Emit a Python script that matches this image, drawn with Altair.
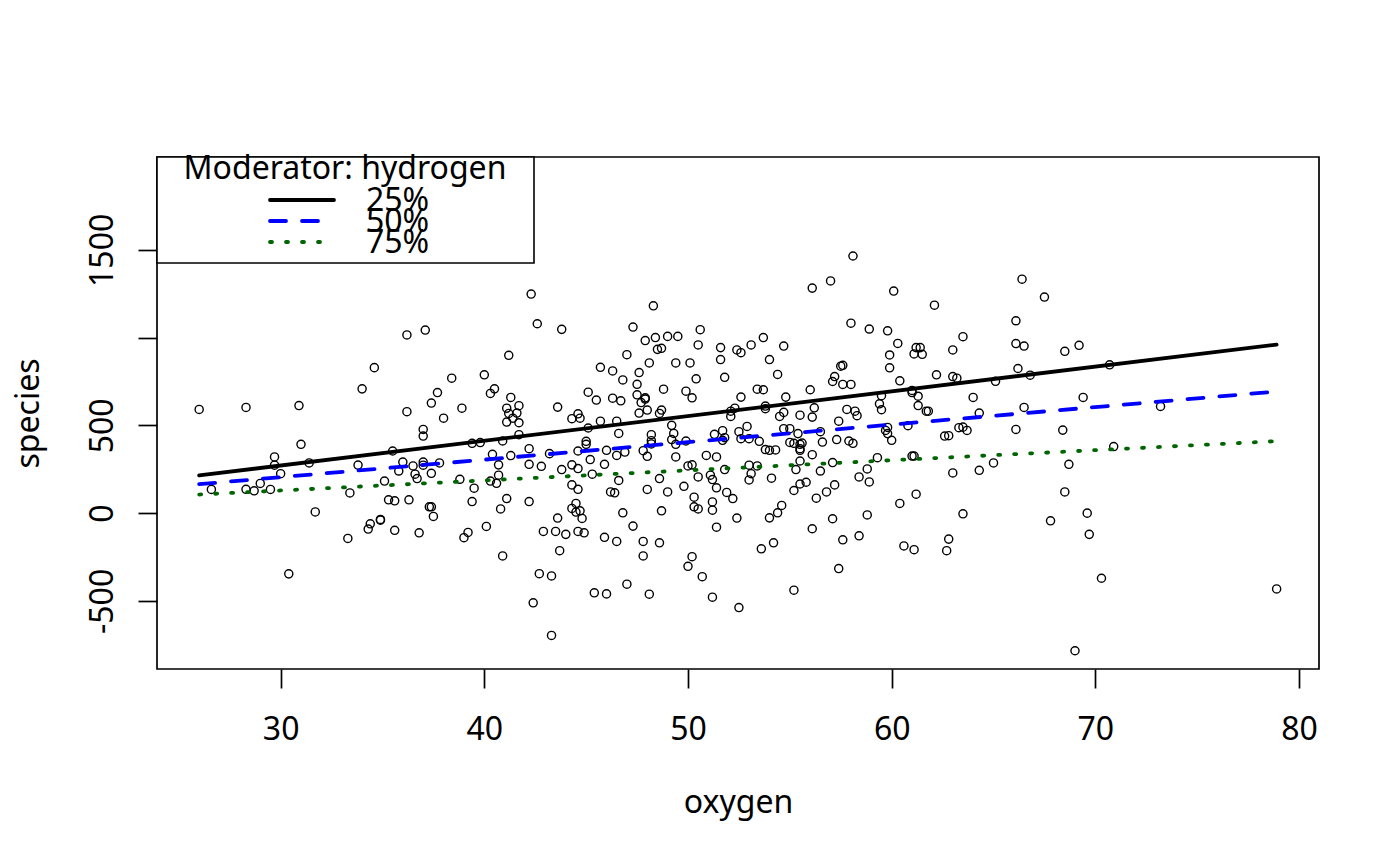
import altair as alt
import pandas as pd

# scatter: oxygen (x) vs species (y)
oxygen = [
 26.0, 28.3, 30.9, 34.0, 34.6, 36.2, 37.1, 38.4, 37.7, 37.4, 36.2, 38.0, 37.0, 37.0, 31.0, 35.5, 29.7,
 29.7, 31.4, 30.0, 26.6, 28.3, 28.7, 29.0, 29.5, 33.8, 33.4, 35.1, 36.0, 35.8, 36.5, 37.0, 37.0, 36.6,
 36.7, 37.4, 37.8, 35.3, 35.6, 36.3, 37.3, 37.4, 37.5, 31.7, 34.4, 34.3, 34.9, 34.9, 35.6, 36.8, 33.3, 30.4,
 42.3, 42.6, 43.8, 41.2, 40.0, 40.5, 40.3, 38.9, 41.3, 41.7, 41.1, 41.2, 41.6, 41.4, 41.1, 41.7, 43.6,
 41.7, 39.4, 39.8, 40.9, 40.4, 41.3, 42.2, 43.2, 44.3, 44.6, 44.7, 45.7, 45.1, 45.5, 45.7, 46.3, 46.8,
 46.3, 46.7, 45.1, 46.5, 46.6, 45.0, 45.0, 44.6, 46.0, 46.5, 46.9, 47.3, 48.3, 47.9, 48.4, 49.0, 49.5,
 48.5, 48.7, 47.0, 48.1, 49.4, 50.1, 50.5, 50.6, 47.6, 47.5, 47.5, 47.9, 47.9, 47.7, 48.8, 49.9, 50.2,
 50.4, 47.6, 48.0, 48.6, 48.7, 49.2, 49.3, 48.2, 48.2, 48.2, 49.2, 49.4, 49.9, 47.8, 48.0, 49.4,
 40.7, 42.2, 42.8, 43.8, 44.3, 44.6, 45.2, 45.9, 45.3, 46.6, 38.8, 40.3, 40.7, 40.6, 39.5, 39.4, 41.1,
 40.8, 42.2, 44.3, 44.6, 44.5, 44.3, 44.5, 44.7, 44.8, 43.6, 42.9, 43.5, 44.0, 44.6, 44.9, 40.1, 39.2,
 39.0, 40.9, 43.7, 42.7, 43.3, 42.4, 43.3, 46.2, 46.4, 46.8, 47.3, 45.9, 46.5, 47.8, 48.6, 47.8, 47.0,
 45.4, 46.0, 48.1, 48.0, 48.6, 49.0, 48.7, 50.0, 50.2, 49.8, 50.5, 50.3, 50.3, 50.5, 50.2, 50.0,
 51.6, 51.6, 52.4, 52.6, 53.1, 53.7, 54.7, 54.0, 51.8, 54.4, 53.4, 53.7, 52.6, 54.8, 52.3, 52.1, 52.1,
 53.8, 53.8, 54.7, 54.5, 55.5, 56.1, 56.2, 56.0, 57.1, 57.2, 57.6, 58.0, 57.5, 57.6, 56.1, 57.0, 58.1,
 60.1, 62.1, 58.0, 58.9, 59.8, 60.3, 59.9, 59.9, 61.2, 61.4, 61.1, 61.5, 60.4, 62.2, 57.8, 58.2, 58.3,
 57.4, 59.5, 59.4, 59.5, 61.0, 61.0, 61.3, 61.3, 61.7, 61.8, 60.8, 59.8, 59.7, 59.8, 60.0, 62.6, 51.3,
 51.7, 51.8, 51.7, 52.5, 52.9, 52.6, 53.0, 53.5, 53.8, 54.0, 54.3, 54.7, 55.0, 55.4, 55.0, 55.2, 55.5,
 55.6, 55.5, 55.5, 56.5, 56.6, 57.3, 57.9, 58.1, 56.1, 50.9, 51.4,
 59.3, 61.0, 61.1, 57.1, 51.1, 51.2, 51.8, 51.4, 51.9, 52.2, 51.2, 51.2, 51.4, 52.4, 53.0, 53.4, 53.1,
 53.0, 54.1, 55.3, 55.5, 55.2, 55.5, 55.8, 56.5, 56.3, 56.8, 57.2, 54.6, 54.4, 54.0, 57.1, 56.1, 57.6,
 58.4, 58.8, 58.4, 58.9, 58.8, 60.4, 61.2, 60.6, 61.1, 54.2, 53.6, 50.7, 51.2, 52.5, 55.2, 57.4,
 66.4, 67.5, 66.1, 63.5, 63.0, 66.1, 66.5, 68.5, 69.2, 70.7, 66.2, 66.8, 63.0, 63.2, 65.1, 64.0, 69.4,
 66.5, 73.2, 64.3, 63.3, 63.5, 63.7, 62.8, 66.1, 68.4, 70.9,
 65.0, 64.3, 63.0, 68.7, 68.5, 63.5, 67.8, 69.6, 69.7, 62.8, 62.7, 70.3, 78.9, 69.0,
]
species = [
 591, 602, 613, 708, 829, 1015, 1043, 769, 687, 627, 578, 541, 477, 439, 392, 354, 320,
 273, 286, 225, 135, 136, 127, 169, 135, 274, 115, 183, 291, 240, 269, 291, 273, 222,
 197, 227, 286, 76, 70, 76, 36, 36, -19, 7, -61, -91, -36, -40, -98, -112, -144, -346,
 1248, 1079, 1047, 899, 788, 708, 682, 598, 659, 612, 598, 568, 570, 541, 519, 515, 604,
 447, 398, 402, 411, 335, 328, 367, 339, 538, 566, 541, 524, 689, 644, 831, 810, 759,
 655, 640, 485, 524, 454, 409, 392, 354, 358, 329, 348, 1060, 1181, 983, 1000, 1007, 1007,
 933, 939, 903, 856, 856, 856, 958, 1045, 801, 734, 674, 657, 650, 630, 706, 695, 657,
 765, 570, 587, 568, 587, 500, 454, 447, 413, 394, 419, 392, 411, 356, 324, 320,
 275, 278, 267, 248, 275, 254, 305, 278, 222, 186, 193, 183, 216, 170, 142, 66, 83,
 24, 66, 161, 136, 55, 27, 6, 13, -30, -28, -104, -104, -121, -104, -112, -76, -110,
 -140, -244, -214, -345, -358, -511, -697, 121, 116, 2, -74, -138, -161, -161, -169, -244, -405,
 -454, -460, -462, 135, 197, 121, 13, 269, 275, 153, 206, 91, 36, 24, -248, -303,
 943, 875, 930, 914, 958, 1000, 952, 875, 774, 790, 706, 703, 661, 661, 598, 581, 551,
 595, 610, 574, 551, 558, 547, 600, 703, 750, 778, 733, 733, 837, 842, 1282, 1323, 1465,
 1265, 1185, 1082, 1049, 1039, 967, 901, 828, 943, 943, 907, 905, 754, 788, 591, 581, 555,
 524, 669, 623, 589, 699, 687, 666, 613, 581, 581, 498, 488, 471, 453, 415, 439, 449,
 470, 430, 415, 464, 494, 424, 424, 409, 362, 358, 360, 481, 481, 453, 403, 398, 392,
 399, 367, 358, 464, 405, 419, 411, 398, 333, 329, 320,
 316, 325, 325, 288, 216, 191, 248, 144, 118, 83, 64, 17, -80, -28, 273, 269, 225,
 189, 199, 248, 297, 129, 166, 176, 240, 85, 121, 161, 44, 2, -27, -32, -89, -152,
 -129, -10, 206, 178, 252, 55, 108, -187, -208, -169, -203, -362, -479, -538, -439, -316,
 1333, 1231, 1096, 1005, 930, 966, 952, 922, 956, 845, 824, 786, 778, 769, 751, 659, 659,
 602, 608, 570, 487, 490, 471, 441, 477, 473, 379,
 286, 244, 229, 278, 121, -4, -44, 0, -121, -148, -214, -371, -432, -784,
]

# conditional regression lines at hydrogen quartiles
line_x = [26.0, 78.9]
q25_y = [215, 960]
q50_y = [165, 693]
q75_y = [106, 410]

legend_title = "Moderator: hydrogen"
legend_labels = ["25%", "50%", "75%"]

x_ticks = [30, 40, 50, 60, 70, 80]
y_ticks = [-500, 0, 500, 1000, 1500]

FONT = "Noto Sans"
FS = 32

pts = pd.DataFrame({"oxygen": oxygen, "species": species})

xscale = alt.Scale(domain=[23.93, 80.98], nice=False, zero=False)
yscale = alt.Scale(domain=[-888, 2029], nice=False, zero=False)

xaxis = alt.Axis(values=x_ticks, title="oxygen", grid=False, domain=False,
                 tickSize=19, tickWidth=1.7, tickColor="black",
                 labelFontSize=FS, labelFont=FONT, labelColor="black",
                 labelBaseline="alphabetic", labelPadding=51, labelOverlap=False,
                 labelExpr="'' + datum.value",
                 titleFontSize=FS, titleFont=FONT, titleFontWeight="normal",
                 titleColor="black", titleBaseline="alphabetic", titleY=143)
yaxis = alt.Axis(values=y_ticks, title="species", grid=False, domain=False,
                 tickSize=19, tickWidth=1.7, tickColor="black",
                 labelFontSize=FS, labelFont=FONT, labelColor="black",
                 labelAngle=270, labelAlign="center", labelBaseline="alphabetic",
                 labelPadding=26, labelOverlap=False,
                 labelExpr="datum.value == 1000 ? '' : '' + datum.value",
                 titleFontSize=FS, titleFont=FONT, titleFontWeight="normal",
                 titleColor="black", titleAngle=270, titleAlign="center",
                 titleBaseline="alphabetic", titleX=-119, titleY=256)

points = alt.Chart(pts).mark_point(shape="circle", filled=False, color="black",
                                   size=66, strokeWidth=1.4, opacity=1).encode(
    x=alt.X("oxygen:Q", scale=xscale, axis=xaxis),
    y=alt.Y("species:Q", scale=yscale, axis=yaxis),
)

def reg_line(yvals, color, dash):
    df = pd.DataFrame({"oxygen": line_x, "species": yvals})
    kw = dict(color=color, strokeWidth=3.8, strokeCap="round")
    if dash:
        kw["strokeDash"] = dash
    return alt.Chart(df).mark_line(**kw).encode(
        x=alt.X("oxygen:Q", scale=xscale),
        y=alt.Y("species:Q", scale=yscale),
    )

l25 = reg_line(q25_y, "black", None)
l50 = reg_line(q50_y, "#0000ff", [16, 16])
l75 = reg_line(q75_y, "#006400", [2, 14])

one = pd.DataFrame({"a": [0]})
box = alt.Chart(one).mark_rect(fill="white", stroke="black", strokeWidth=1.6).encode(
    x=alt.value(0), x2=alt.value(377), y=alt.value(0), y2=alt.value(106))
title_t = alt.Chart(one).mark_text(text=legend_title, font=FONT, fontSize=FS, align="center",
                                   baseline="alphabetic", color="black").encode(
    x=alt.value(188), y=alt.value(22))

leg_layers = [box, title_t]
styles = [("black", None), ("#0000ff", [16, 16]), ("#006400", [2, 14])]
for i, (lab, (col, dash)) in enumerate(zip(legend_labels, styles)):
    ly = 43 + 21 * i
    kw = dict(color=col, strokeWidth=3.8, strokeCap="round")
    if dash:
        kw["strokeDash"] = dash
    leg_layers.append(alt.Chart(one).mark_rule(**kw).encode(
        x=alt.value(113), x2=alt.value(177), y=alt.value(ly)))
    leg_layers.append(alt.Chart(one).mark_text(text=lab, font=FONT, fontSize=FS, align="left",
                                               baseline="alphabetic", color="black").encode(
        x=alt.value(209), y=alt.value(ly + 11)))

chart = alt.layer(points, l25, l50, l75, *leg_layers).properties(
    width=1162, height=512,
    autosize=alt.AutoSizeParams(type="none"),
    padding={"left": 149, "top": 149, "right": 73, "bottom": 189},
).configure(font=FONT, background="white").configure_view(stroke="black", strokeWidth=1.7)

chart.save("out.html", embed_options={"renderer": "svg", "actions": False})
